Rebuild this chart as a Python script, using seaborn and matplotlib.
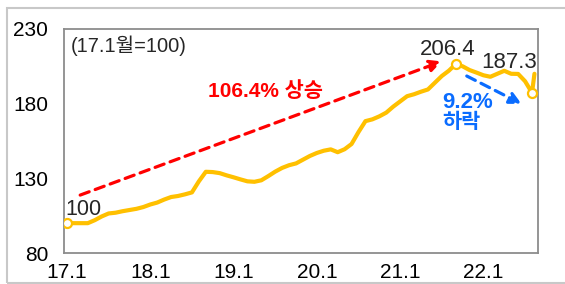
import numpy as np
import pandas as pd
import matplotlib
matplotlib.use("Agg")
import matplotlib.pyplot as plt
import seaborn as sns
from matplotlib.patches import Rectangle

# data: monthly index, 17.1 = 100 (month 0 = Jan 2017)
months = list(range(68)) + [67.35]
values = [100, 100, 100, 100, 102, 104.5, 106.5, 107, 108, 108.8,
          109.6, 110.8, 112.5, 113.8, 115.8, 117.5, 118.2, 119.3, 120.6, 128,
          134.4, 134.2, 133.5, 132, 130.7, 129.3, 128, 127.7, 128.7, 131.5,
          134.5, 137, 138.8, 140, 142.5, 145, 147, 148.5, 149.4, 147.5,
          149.5, 153, 161, 168.3, 169.5, 171.5, 174, 178, 181.5, 185,
          186.3, 188, 189.5, 194, 198.5, 202, 206.4, 205, 202.5, 200.8,
          199, 198, 200, 202, 200, 199.9, 195, 187.3, 200]
marked = [0, 56, 67]
tick_months = [0, 12, 24, 36, 48, 60]
tick_labels = ['17.1', '18.1', '19.1', '20.1', '21.1', '22.1']
y_ticks = [80, 130, 180, 230]

df = pd.DataFrame({'month': months, 'value': values})

sns.set_style('white')
plt.rcParams['font.family'] = ['Liberation Sans', 'Noto Sans CJK KR']

YELLOW = '#FFC000'
RED = '#FF0000'
BLUE = '#0A6CFF'

fig = plt.figure(figsize=(5.65, 2.84), dpi=100)
ax = fig.add_axes([0.1133, 0.109, 0.8384, 0.789])

sns.lineplot(data=df, x='month', y='value', color=YELLOW, lw=3, ax=ax, sort=False)
mk = df.iloc[marked]
ax.plot(mk['month'], mk['value'], 'o', ms=6.5, mfc='white', mec=YELLOW, mew=1.6, zorder=4)

ax.set_xlim(-0.43, 67.82)
ax.set_ylim(80, 230)
ax.set_xticks(tick_months)
ax.set_xticklabels(tick_labels)
ax.set_yticks(y_ticks)
ax.set_xlabel('')
ax.set_ylabel('')
ax.tick_params(axis='both', length=0, labelsize=15, colors='black')
ax.tick_params(axis='y', pad=11.5)
ax.tick_params(axis='x', pad=7.5)
for s in ax.spines.values():
    s.set_color('#8c8c8c')
    s.set_linewidth(1.3)

# texts
ax.text(0.6, 219, '(17.1월=100)', fontsize=14.5, va='center', ha='left')
ax.text(-0.3, 109, '100', fontsize=15.5, va='center', ha='left')
ax.text(50.9, 216, '206.4', fontsize=16, va='center', ha='left')
ax.text(59.7, 207.5, '187.3', fontsize=16, va='center', ha='left')
ax.text(20.3, 188.5, '106.4% 상승', fontsize=15, color=RED, fontweight='bold', va='center', ha='left')
ax.text(54.1, 181, '9.2%', fontsize=16, color=BLUE, fontweight='bold', va='center', ha='left')
ax.text(54.1, 167.5, '하락', fontsize=15, color=BLUE, fontweight='bold', va='center', ha='left')

# dashed arrows
ax.annotate('', xy=(54, 208.3), xytext=(1.9, 118.8),
            arrowprops=dict(arrowstyle='-|>,head_length=0.7,head_width=0.35', color=RED,
                            lw=2.3, linestyle=(0, (3, 2)), shrinkA=0, shrinkB=0))
ax.annotate('', xy=(65.5, 179.8), xytext=(57.6, 198.5),
            arrowprops=dict(arrowstyle='-|>,head_length=0.7,head_width=0.35', color=BLUE,
                            lw=2.3, linestyle=(0, (3, 2)), shrinkA=0, shrinkB=0))

# outer frame
fig.patches.append(Rectangle((7 / 565, 1 / 284), 1.2, 275 / 284, transform=fig.transFigure,
                             fill=False, edgecolor='#c8c8c8', lw=1.5))

fig.savefig('out.png', dpi=100)
